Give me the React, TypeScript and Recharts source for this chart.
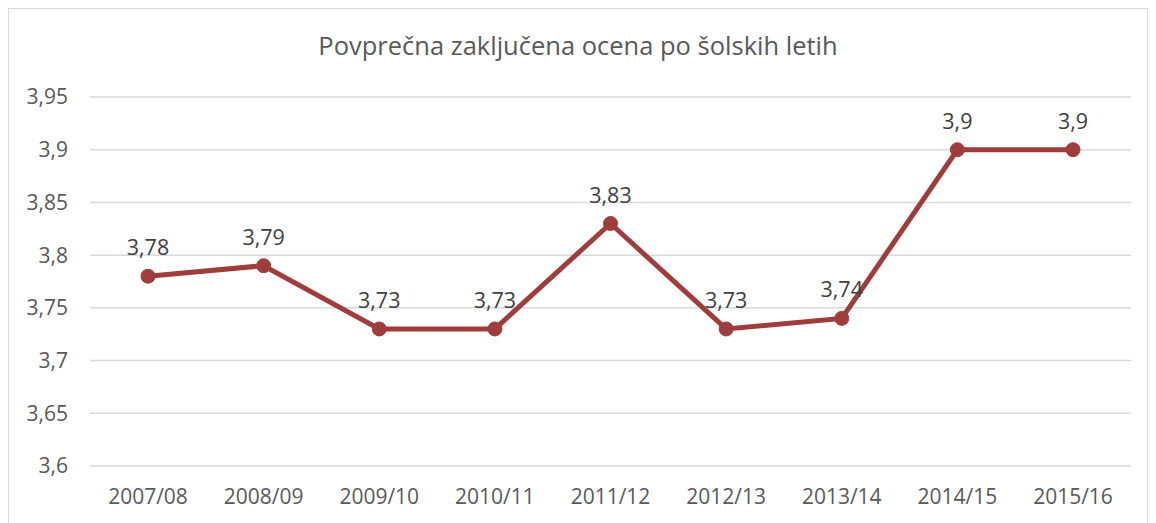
import { LineChart, Line, XAxis, YAxis, CartesianGrid, LabelList } from "recharts";

const years = ["2007/08", "2008/09", "2009/10", "2010/11", "2011/12", "2012/13", "2013/14", "2014/15", "2015/16"];
const grades = [3.78, 3.79, 3.73, 3.73, 3.83, 3.73, 3.74, 3.9, 3.9];
const yTicks = [3.6, 3.65, 3.7, 3.75, 3.8, 3.85, 3.9, 3.95];

const data = years.map((year, i) => ({ year, grade: grades[i] }));

const comma = (v: number | string) => String(v).replace(".", ",");
const lineColor = "#9e3d3b";
const font = "'Open Sans', sans-serif";

export default function App() {
  return (
    <div
      style={{
        position: "relative",
        width: 1138,
        height: 518,
        border: "1px solid #d9d9d9",
        background: "#fff",
        fontFamily: font,
      }}
    >
      <div
        style={{
          position: "absolute",
          top: 19,
          left: 0,
          width: "100%",
          textAlign: "center",
          fontSize: 25.5,
          color: "#595959",
        }}
      >
        Povprečna zaključena ocena po šolskih letih
      </div>
      <LineChart width={1138} height={518} data={data} margin={{ top: 88, right: 16, bottom: 31, left: 0 }}>
        <CartesianGrid vertical={false} stroke="#d9d9d9" strokeWidth={1.5} />
        <XAxis
          dataKey="year"
          axisLine={false}
          tickLine={false}
          height={30}
          tickMargin={17}
          padding={{ left: 58, right: 58 }}
          tick={{ fill: "#595959", fontSize: 21, fontFamily: font }}
        />
        <YAxis
          domain={[3.6, 3.95]}
          ticks={yTicks}
          width={81}
          axisLine={false}
          tickLine={false}
          tickSize={0}
          tickMargin={22}
          tickFormatter={comma}
          tick={{ fill: "#595959", fontSize: 21, fontFamily: font }}
        />
        <Line
          dataKey="grade"
          stroke={lineColor}
          strokeWidth={5}
          dot={{ r: 7, fill: lineColor, stroke: lineColor, strokeWidth: 1 }}
          isAnimationActive={false}
        >
          <LabelList
            dataKey="grade"
            position="top"
            offset={21}
            formatter={comma}
            style={{ fill: "#404040", fontSize: 21.5, fontFamily: font }}
          />
        </Line>
      </LineChart>
    </div>
  );
}
